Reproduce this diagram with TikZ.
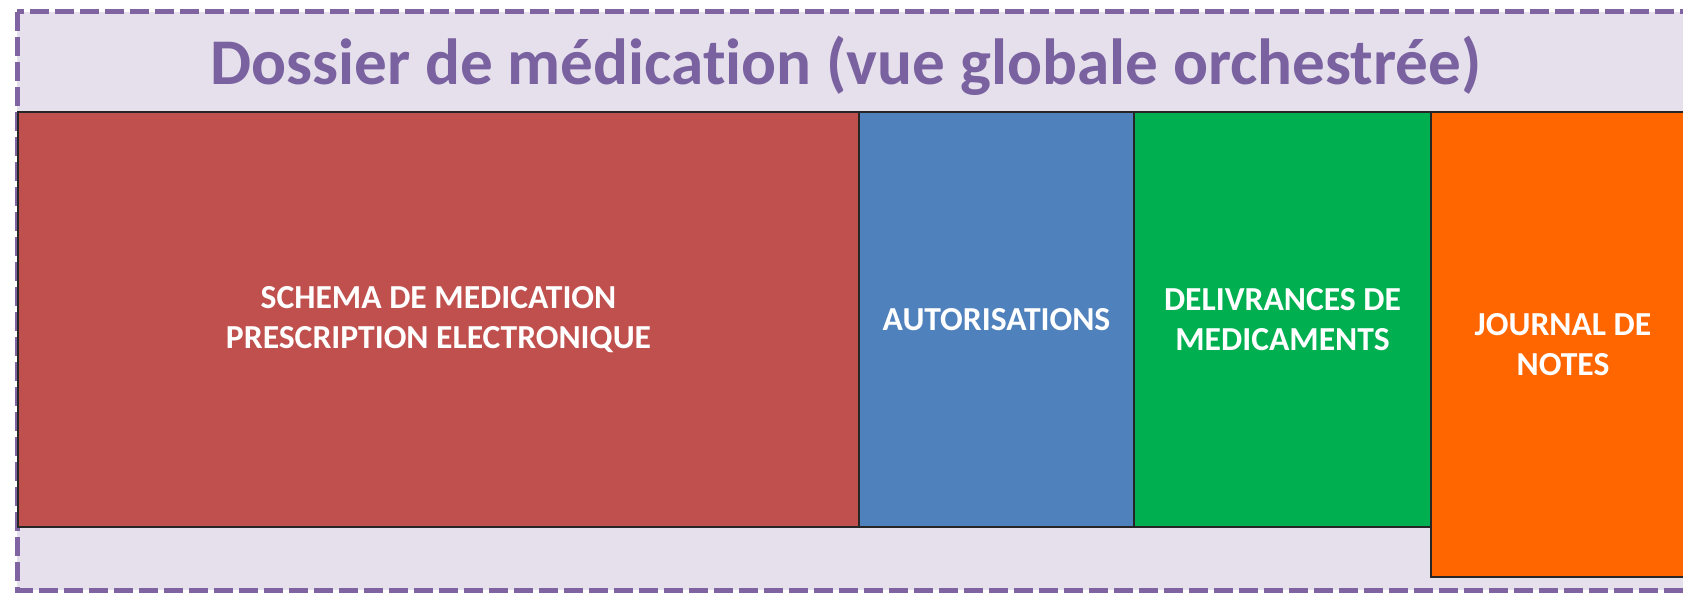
\documentclass[tikz,border=0pt]{standalone}
\usepackage{fontspec}
\setmainfont{Carlito}[Ligatures=NoCommon]
\definecolor{bgc}{HTML}{E5E0EC}
\definecolor{purp}{HTML}{8064A2}
\definecolor{titlec}{HTML}{7A62A0}
\definecolor{redc}{HTML}{C0504D}
\definecolor{bluec}{HTML}{4F81BD}
\definecolor{greenc}{HTML}{00B050}
\definecolor{orangec}{HTML}{FF6600}
\tikzset{
  blockbox/.style={draw=black!85, line width=0.75pt, inner sep=0pt, anchor=center,
    text=white, font=\bfseries\fontsize{16.8}{20}\selectfont, align=center},
  frame/.style={draw=purp, line width=2.5pt, dash pattern=on 9.5pt off 3pt, fill=bgc}
}
\begin{document}
\begin{tikzpicture}[x=0.5pt,y=-0.5pt]
\useasboundingbox (0,0) rectangle (1683,593);
\fill[white] (0,0) rectangle (1683,593);
\draw[frame] (17,12) rectangle (1705,590);
\node[text=titlec, font=\bfseries\fontsize{32.6}{40}\selectfont, anchor=base, inner sep=0pt] (title) at (846,85) {Dossier de médication (vue globale orchestrée)};
\node[blockbox, fill=redc, minimum width=420.5pt, minimum height=207.5pt] (schema) at (438.5,319.5) {SCHEMA DE MEDICATION\\PRESCRIPTION ELECTRONIQUE};
\node[blockbox, fill=bluec, minimum width=137.5pt, minimum height=207.5pt] (autor) at (996.5,319.5) {AUTORISATIONS};
\node[blockbox, fill=greenc, minimum width=148.5pt, minimum height=207.5pt] (deliv) at (1282.5,319.5) {DELIVRANCES DE\\MEDICAMENTS};
\node[blockbox, fill=orangec, minimum width=132pt, minimum height=232.5pt] (journal) at (1563,344.5) {JOURNAL DE\\NOTES};
\end{tikzpicture}
\end{document}
